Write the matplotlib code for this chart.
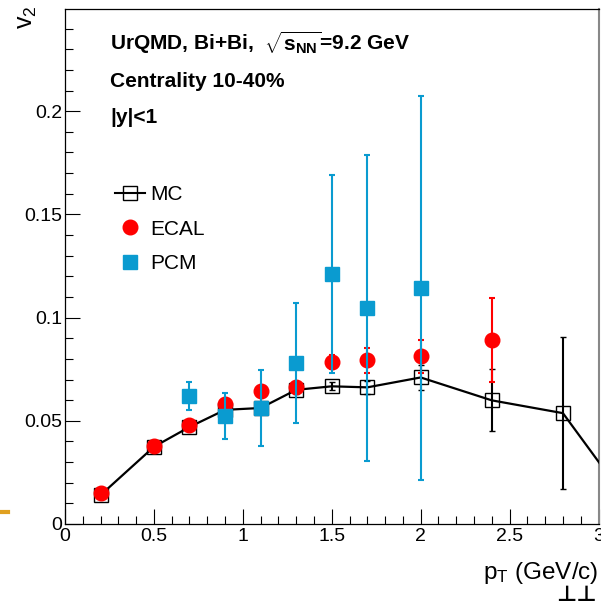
import matplotlib
matplotlib.use("Agg")
import matplotlib.pyplot as plt
from matplotlib.lines import Line2D
from matplotlib.ticker import MultipleLocator, FormatStrFormatter

plt.rcParams['font.family'] = ['Liberation Sans', 'DejaVu Sans']
plt.rcParams['mathtext.fontset'] = 'custom'
plt.rcParams['mathtext.rm'] = 'Liberation Sans'
plt.rcParams['mathtext.it'] = 'Liberation Sans'
plt.rcParams['mathtext.bf'] = 'Liberation Sans:bold'

# v2(pT) of photons, UrQMD Bi+Bi at 9.2 GeV, centrality 10-40%
mc_pt = [0.2, 0.5, 0.7, 0.9, 1.1, 1.3, 1.5, 1.7, 2.0, 2.4, 2.8, 3.2]
mc_v2 = [0.0140, 0.0374, 0.0470, 0.0553, 0.0562, 0.0650, 0.0667, 0.0662,
         0.0710, 0.0599, 0.0537, 0.0067]
mc_err = [0.0010, 0.0010, 0.0015, 0.0015, 0.0020, 0.0020, 0.0020, 0.0030,
          0.0060, 0.0150, 0.0367, 0.0400]

ecal_pt = [0.2, 0.5, 0.7, 0.9, 1.1, 1.3, 1.5, 1.7, 2.0, 2.4]
ecal_v2 = [0.0149, 0.0379, 0.0480, 0.0583, 0.0642, 0.0662, 0.0785, 0.0793,
           0.0812, 0.0890]
ecal_err = [0.0008, 0.0008, 0.0010, 0.0012, 0.0012, 0.0015, 0.0036, 0.0060,
            0.0080, 0.0203]

pcm_pt = [0.7, 0.9, 1.1, 1.3, 1.5, 1.7, 2.0]
pcm_v2 = [0.0621, 0.0524, 0.0562, 0.0780, 0.1212, 0.1047, 0.1144]
pcm_err = [0.0068, 0.0111, 0.0182, 0.0290, 0.0480, 0.0743, 0.0930]

W, H = 601, 604
fig = plt.figure(figsize=(W / 100, H / 100), dpi=100)
ax = fig.add_axes([65 / W, 1 - 524 / H, (598.5 - 65) / W, 515 / H])

blue = '#0a9bd0'

ax.errorbar(mc_pt, mc_v2, yerr=mc_err, color='black', lw=1.6, elinewidth=1.5,
            capsize=2.2, capthick=1.5, marker='s', ms=10, mfc='none',
            mec='black', mew=1.0, zorder=3)
ax.errorbar(ecal_pt, ecal_v2, yerr=ecal_err, fmt='o', color='red', ms=10.5,
            elinewidth=1.5, capsize=2.2, capthick=1.5, zorder=4)
ax.errorbar(pcm_pt, pcm_v2, yerr=pcm_err, fmt='s', color=blue, ms=10,
            elinewidth=1.5, capsize=2.2, capthick=1.5, zorder=5)

ax.set_xlim(0, 3)
ax.set_ylim(0, 0.2495)
ax.xaxis.set_major_locator(MultipleLocator(0.5))
ax.xaxis.set_minor_locator(MultipleLocator(0.1))
ax.yaxis.set_major_locator(MultipleLocator(0.05))
ax.yaxis.set_minor_locator(MultipleLocator(0.01))
ax.xaxis.set_major_formatter(FormatStrFormatter('%g'))
ax.yaxis.set_major_formatter(FormatStrFormatter('%g'))
ax.tick_params(which='both', direction='in', top=False, right=False,
               width=0.8, labelsize=14)
ax.tick_params(axis='x', which='both', pad=3)
ax.tick_params(axis='y', which='both', pad=2)
ax.tick_params(which='major', length=11)
ax.tick_params(which='minor', length=5.5)
for s in ax.spines.values():
    s.set_linewidth(0.9)
ax.spines['right'].set_color('#888888')
ax.spines['right'].set_linewidth(1.5)

# axis titles
fig.text(27 / W, 1 - 5 / H, r'v$_{2}$', rotation=90, ha='center', va='top',
         fontsize=18)
fig.text(598 / W, 1 - 579 / H, r'p$_{\mathrm{T}}$ (GeV/c)', ha='right',
         va='baseline', fontsize=17.5)

# header
fig.text(110 / W, 1 - 50 / H,
         r'UrQMD, Bi+Bi,  $\mathbf{\sqrt{s_{NN}}}$=9.2 GeV',
         fontsize=15, fontweight='bold', va='baseline')
fig.text(110 / W, 1 - 87 / H, 'Centrality 10-40%', fontsize=15,
         fontweight='bold', va='baseline')
fig.text(110 / W, 1 - 123 / H, '|y|<1', fontsize=15, fontweight='bold',
         va='baseline')

handles = [
    Line2D([], [], color='black', lw=1.5, marker='s', ms=10, mfc='none',
           mec='black', mew=1.0),
    Line2D([], [], ls='none', marker='o', color='red', ms=10.5),
    Line2D([], [], ls='none', marker='s', color=blue, ms=10),
]
leg = ax.legend(handles, ['MC', 'ECAL', 'PCM'], loc='upper left',
                bbox_to_anchor=(115 / W, 1 - 185 / H),
                bbox_transform=fig.transFigure, frameon=False, fontsize=15,
                handlelength=1.45, handletextpad=0.25, labelspacing=0.75,
                borderpad=0, borderaxespad=0)

# page decorations at the edges
fig.add_artist(Line2D([0, 8 / W], [1 - 512 / H, 1 - 512 / H],
                      color='#e0a020', lw=3, transform=fig.transFigure))
fig.text(576 / W, 1 - 601 / H, '\u22a5\u22a5', ha='center', va='baseline',
         fontsize=16, fontweight='bold', family=['DejaVu Sans'])

fig.savefig('out.png', dpi=100)
